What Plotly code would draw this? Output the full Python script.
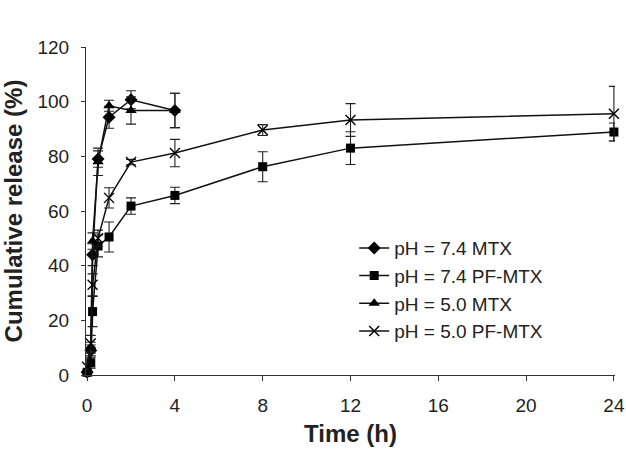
import plotly.graph_objects as go

t_mtx = [0, 0.167, 0.25, 0.5, 1, 2, 4]
t_pf = [0, 0.167, 0.25, 0.5, 1, 2, 4, 8, 12, 24]

mtx74 = [1, 9, 44, 79, 94.3, 100.7, 96.8]
mtx74_err = [0.5, 2, 4, 3, 4, 3.3, 6.3]

pf74 = [1, 4.5, 23.2, 47.2, 50.5, 61.8, 65.7, 76.2, 83.0, 88.9]
pf74_err = [0.5, 2, 5.5, 4, 5.5, 3, 3, 5.5, 6, 3.3]

mtx50 = [0.5, 10, 49, 78, 98.5, 96.8, 96.8]
mtx50_err = [0.5, 2, 3, 5, 2, 5, 6.3]

pf50 = [3, 11.5, 33, 50, 64.8, 77.9, 81.2, 89.6, 93.3, 95.6]
pf50_err = [1, 3, 4, 3, 3.7, 1, 5, 2, 6, 10]

names = ["pH = 7.4 MTX", "pH = 7.4 PF-MTX", "pH = 5.0 MTX", "pH = 5.0 PF-MTX"]

x_ticks = [0, 4, 8, 12, 16, 20, 24]
y_ticks = [0, 20, 40, 60, 80, 100, 120]

fig = go.Figure()

series = [
    (t_mtx, mtx74, mtx74_err, "diamond", 10, "#000000"),
    (t_pf, pf74, pf74_err, "square", 9, "#000000"),
    (t_mtx, mtx50, mtx50_err, "triangle-up", 10, "#000000"),
    (t_pf, pf50, pf50_err, "x-thin-open", 10, "#000000"),
]

for (x, y, e, sym, sz, col), nm in zip(series, names):
    marker = dict(symbol=sym, size=sz, color=col)
    if sym == "x-thin-open":
        marker["line"] = dict(width=1.4, color=col)
    fig.add_trace(go.Scatter(
        x=x, y=y, name=nm, mode="lines+markers",
        line=dict(color="#111111", width=1.5),
        marker=marker, cliponaxis=False,
        error_y=dict(type="data", array=e, visible=True, color="#222222", thickness=1.1, width=5),
    ))

fig.update_layout(
    width=626, height=449,
    margin=dict(l=86, r=11, t=47, b=74),
    paper_bgcolor="white", plot_bgcolor="white",
    font=dict(family="Liberation Sans, Arial, sans-serif", size=19, color="#222222"),
    showlegend=True,
    legend=dict(x=0.507, y=0.445, xanchor="left", yanchor="top",
                bgcolor="rgba(0,0,0,0)", font=dict(size=19, color="#222222"),
                tracegroupgap=0, itemwidth=30),
    xaxis=dict(
        range=[-0.05, 24.05], tickvals=x_ticks, ticktext=[str(v) for v in x_ticks],
        showline=True, linecolor="#333333", linewidth=1.2, showgrid=False, zeroline=False,
        ticks="outside", ticklen=5, tickcolor="#333333", ticklabelstandoff=8,
        ticklabeloverflow="allow",
        automargin=False, tickfont=dict(size=19),
        title=dict(text="<b>Time (h)</b>", font=dict(size=24, color="#222222"), standoff=10),
    ),
    yaxis=dict(
        range=[0, 120], tickvals=y_ticks, ticktext=[str(v) for v in y_ticks],
        showline=True, linecolor="#333333", linewidth=1.2, showgrid=False, zeroline=False,
        ticks="outside", ticklen=4, tickcolor="#333333", ticklabelstandoff=8,
        automargin=False, tickfont=dict(size=19),
        title=dict(text="<b>Cumulative release (%)</b>", font=dict(size=24, color="#222222"), standoff=14),
    ),
)

fig.write_html("out.html", config={"displayModeBar": False},
               post_script="document.body.style.margin='0';")
